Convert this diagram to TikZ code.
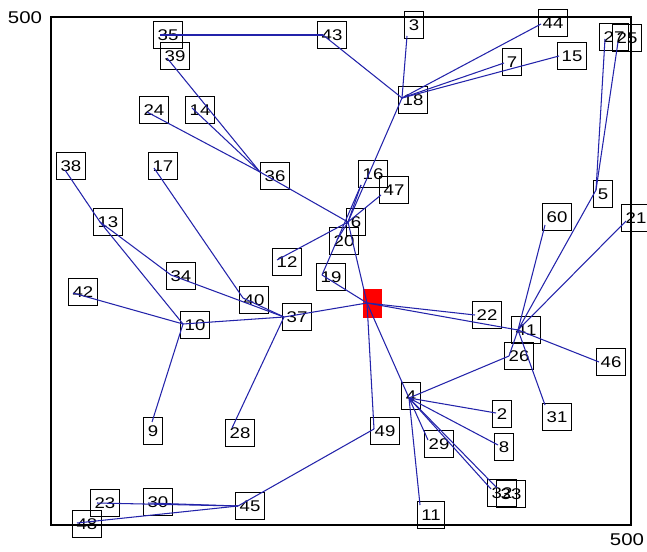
\documentclass[tikz,border=0pt]{standalone}
\usepackage{fontspec}
\setmainfont{Liberation Sans}
\newfontfamily\lblfont[FakeStretch=1.2]{Liberation Sans}
% one labelled sensor: id, box centre, attachment point
\newcommand\sensor[5]{%
  \node[lbl] (n#1) at (#2,#3) {#1};
  \coordinate (p#1) at (#4,#5);}
\tikzset{
  lbl/.style={draw=black, line width=1.2pt, inner xsep=4pt, inner ysep=0pt,
    minimum height=27pt, text height=10.5pt, text depth=0pt,
    font=\lblfont\fontsize{15.5}{15.5}\selectfont},
  axlbl/.style={inner sep=0pt, font=\lblfont\fontsize{17}{17}\selectfont},
  link/.style={draw={rgb,255:red,35;green,35;blue,170}, line width=1.05pt},
}
\begin{document}
\begin{tikzpicture}[x=1pt,y=-1pt]
\useasboundingbox (0,0) rectangle (647,551);
\fill[white] (0,0) rectangle (647,551);

% plotting frame and its axis labels
\draw[line width=1.3pt] (51,17) rectangle (631,525);
\node[axlbl] (ytop) at (25,18) {500};
\node[axlbl] (xright) at (627,540) {500};

% base station
\node[fill=red, minimum width=19pt, minimum height=29pt, inner sep=0pt] (nR) at (372.5,303) {};
\coordinate (pR) at (367,303);

% sensors
\sensor{35}{168}{35}{160}{35}
\sensor{39}{175}{56}{167}{58}
\sensor{43}{332}{35}{323}{35}
\sensor{3}{414}{25}{407}{36}
\sensor{44}{553}{23}{541}{24}
\sensor{7}{512}{62}{504}{63}
\sensor{15}{572}{56}{559}{56}
\sensor{27}{614}{37}{605}{39}
\sensor{25}{627}{38}{618}{42}
\sensor{18}{413}{100}{402}{98}
\sensor{24}{154}{110}{147}{112}
\sensor{14}{200}{110}{192}{108}
\sensor{38}{71}{166}{65}{170}
\sensor{17}{163}{166}{154}{168}
\sensor{36}{275}{176}{260}{172}
\sensor{16}{373}{174}{361}{185}
\sensor{47}{394}{190}{381}{195}
\sensor{6}{356}{222}{348}{222}
\sensor{20}{344}{241}{337}{240}
\sensor{12}{287}{262}{277}{260}
\sensor{19}{331}{277}{322}{275}
\sensor{13}{108}{222}{100}{222}
\sensor{34}{181}{276}{171}{275}
\sensor{42}{83}{292}{73}{293}
\sensor{40}{254}{300}{243}{298}
\sensor{37}{297}{317}{284}{317}
\sensor{10}{195}{325}{183}{324}
\sensor{22}{487}{315}{475}{315}
\sensor{41}{526}{330}{518}{330}
\sensor{26}{519}{356}{509}{356}
\sensor{46}{611}{362}{599}{362}
\sensor{60}{557}{217}{545}{225}
\sensor{5}{603}{194}{596}{190}
\sensor{21}{636}{218}{626}{221}
\sensor{31}{557}{417}{545}{405}
\sensor{4}{411}{396}{409}{398}
\sensor{2}{502}{414}{496}{413}
\sensor{8}{504}{447}{498}{445}
\sensor{29}{439}{444}{428}{440}
\sensor{32}{502}{493}{491}{489}
\sensor{33}{511}{494}{497}{488}
\sensor{49}{385}{431}{374}{429}
\sensor{11}{431}{515}{420}{505}
\sensor{9}{153}{431}{152}{422}
\sensor{28}{240}{433}{232}{428}
\sensor{45}{250}{506}{238}{506}
\sensor{23}{105}{503}{97}{503}
\sensor{30}{158}{502}{148}{503}
\sensor{48}{87}{524}{77}{523}

% routing tree
\foreach \a/\b in {35/43, 43/18, 3/18, 44/18, 7/18, 15/18, 18/6,
  39/36, 24/36, 14/36, 36/6, 16/6, 16/19, 47/6, 12/6, 20/6, 6/R,
  19/R, 37/R, R/22, R/41, R/4, R/49,
  38/13, 13/10, 13/34, 34/37, 17/40, 40/37, 42/10, 10/37, 9/10, 28/37,
  41/60, 41/5, 41/21, 41/46, 41/31, 41/26, 5/27, 5/25,
  4/26, 4/2, 4/8, 4/29, 4/32, 4/33, 4/11,
  49/45, 45/23, 45/30, 45/48}
  \draw[link] (p\a) -- (p\b);
\end{tikzpicture}
\end{document}
